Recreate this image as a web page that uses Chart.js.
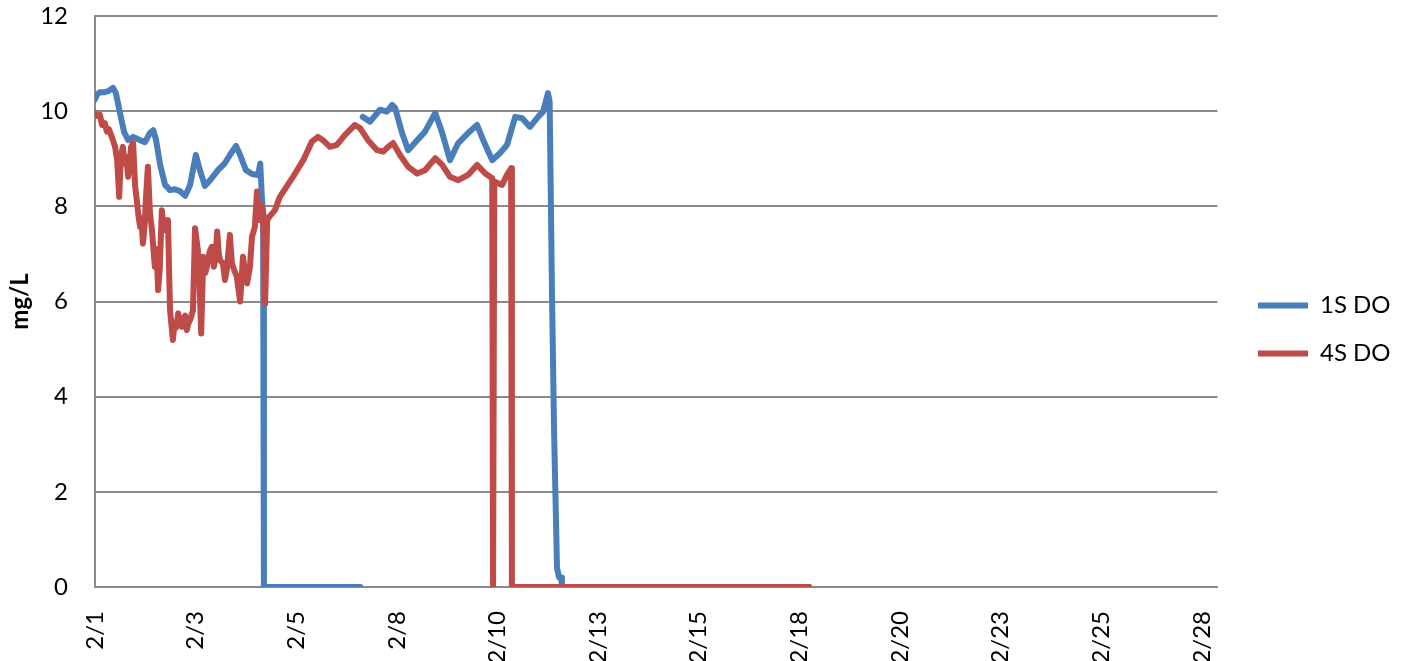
<!DOCTYPE html>
<html>
<head>
<meta charset="utf-8">
<script src="https://cdn.jsdelivr.net/npm/chart.js@4/dist/chart.umd.min.js"></script>
<style>
  html, body { margin: 0; padding: 0; background: #fff; }
</style>
</head>
<body>
<canvas id="myChart" width="1401" height="661"></canvas>
<script>
// x values are days of February (1 = 2/1 00:00)
var tickLabels = ["2/1", "2/3", "2/5", "2/8", "2/10", "2/13", "2/15", "2/18", "2/20", "2/23", "2/25", "2/28"];

var s1Days = [1.00, 1.05, 1.12, 1.24, 1.32, 1.44, 1.51, 1.61, 1.71, 1.81, 1.93, 2.10, 2.22, 2.34, 2.42, 2.49,
  2.59, 2.71, 2.83, 2.95, 3.07, 3.20, 3.32, 3.46, 3.56, 3.68, 3.81, 4.00, 4.17, 4.29, 4.44, 4.54, 4.68,
  4.83, 4.98, 5.03, 5.07, 5.10, 5.12, 7.47, 7.49, 7.53, 7.71, 7.95, 8.12, 8.25, 8.32, 8.49, 8.64, 8.86,
  9.05, 9.30, 9.47, 9.66, 9.86, 10.10, 10.32, 10.47, 10.69, 10.88, 11.05, 11.25, 11.42, 11.61, 11.81,
  11.93, 12.05, 12.09, 12.15, 12.20, 12.27, 12.32, 12.37, 12.39, 18.42];
var s1DO = [10.25, 10.35, 10.40, 10.40, 10.42, 10.49, 10.38, 9.96, 9.56, 9.39, 9.46, 9.39, 9.35, 9.54, 9.60, 9.39,
  8.87, 8.45, 8.34, 8.36, 8.32, 8.22, 8.45, 9.08, 8.76, 8.43, 8.55, 8.76, 8.91, 9.08, 9.27, 9.08, 8.76,
  8.68, 8.66, 8.90, 8.20, 7.80, 0, 0, null, 9.88, 9.78, 10.03, 9.99, 10.13, 10.07, 9.54, 9.18, 9.39,
  9.57, 9.96, 9.54, 8.97, 9.33, 9.54, 9.71, 9.39, 8.97, 9.12, 9.29, 9.88, 9.85, 9.67, 9.88,
  9.99, 10.38, 10.20, 6.00, 3.20, 0.40, 0.20, 0.20, 0, 0];

var s4Days = [1.00, 1.06, 1.12, 1.17, 1.24, 1.29, 1.34, 1.41, 1.49, 1.54, 1.59, 1.63, 1.68, 1.72, 1.76, 1.81,
  1.88, 1.93, 1.98, 2.02, 2.06, 2.10, 2.13, 2.17, 2.21, 2.24, 2.29, 2.34, 2.39, 2.43, 2.46, 2.50, 2.54,
  2.58, 2.63, 2.67, 2.71, 2.78, 2.83, 2.90, 2.94, 2.98, 3.03, 3.07, 3.12, 3.16, 3.20, 3.24, 3.28, 3.32,
  3.39, 3.44, 3.51, 3.55, 3.59, 3.64, 3.69, 3.73, 3.77, 3.81, 3.85, 3.90, 3.94, 3.98, 4.02, 4.05, 4.12,
  4.17, 4.22, 4.29, 4.34, 4.40, 4.46, 4.54, 4.61, 4.66, 4.71, 4.78, 4.83, 4.90, 4.95, 5.00, 5.03, 5.07,
  5.10, 5.15, 5.20, 5.27, 5.39, 5.51, 5.83, 6.08, 6.29, 6.44, 6.56, 6.73, 6.90, 7.10, 7.34, 7.47, 7.66,
  7.88, 8.03, 8.15, 8.27, 8.44, 8.64, 8.86, 9.05, 9.30, 9.47, 9.66, 9.86, 10.10, 10.32, 10.52, 10.69,
  10.71, 10.74, 10.93, 11.05, 11.15, 11.17, 18.42];
var s4DO = [9.96, 9.90, 9.92, 9.71, 9.75, 9.57, 9.62, 9.46, 9.25, 8.97, 8.20, 9.04, 9.25, 8.90, 9.04, 8.62,
  9.25, 9.33, 8.41, 8.13, 7.80, 7.57, 7.75, 7.22, 7.60, 8.13, 8.83, 7.85, 7.50, 7.05, 6.73, 7.10, 6.24,
  6.70, 7.92, 7.60, 7.50, 7.71, 5.82, 5.19, 5.55, 5.45, 5.75, 5.50, 5.47, 5.65, 5.70, 5.40, 5.55, 5.61,
  5.82, 7.54, 7.08, 6.40, 5.33, 6.94, 6.60, 6.73, 6.95, 7.08, 7.15, 6.73, 6.90, 7.47, 7.00, 6.87, 6.80,
  6.45, 6.70, 7.40, 6.80, 6.65, 6.52, 6.00, 6.94, 6.60, 6.38, 6.73, 7.36, 7.57, 8.31, 7.80, 7.71, 8.00,
  7.90, 5.96, 7.71, 7.80, 7.92, 8.20, 8.62, 8.97, 9.36, 9.46, 9.39, 9.25, 9.29, 9.50, 9.71, 9.64, 9.39,
  9.18, 9.15, 9.25, 9.33, 9.08, 8.83, 8.69, 8.76, 9.01, 8.87, 8.62, 8.55, 8.66, 8.87, 8.69, 8.59,
  0, 8.52, 8.45, 8.66, 8.80, 0, 0];

var tickStep = 27 / 11;

function toPoints(days, vals) {
  return days.map(function (d, i) { return { x: d, y: vals[i] }; });
}

var ctx = document.getElementById('myChart');
var fontFamily = "Lato, 'Liberation Sans', sans-serif";
var gridGray = "#8a8a8a";

// move the legend to where Excel put it
var legendShift = {
  id: "legendShift",
  afterLayout: function (chart) {
    var lg = chart.legend;
    var dx = 1234 - lg.left, dy = -9;
    lg.left += dx; lg.right += dx;
    lg.top += dy; lg.bottom += dy;
  }
};

var chart = new Chart(ctx, {
  type: "line",
  data: {
    datasets: [
      {
        label: "1S DO",
        data: toPoints(s1Days, s1DO),
        borderColor: "#4a7ebb",
        backgroundColor: "#4a7ebb",
        borderWidth: 6,
        borderCapStyle: "round",
        borderJoinStyle: "round",
        pointRadius: 0,
        tension: 0,
        fill: false,
        order: 1
      },
      {
        label: "4S DO",
        data: toPoints(s4Days, s4DO),
        borderColor: "#be4b48",
        backgroundColor: "#be4b48",
        borderWidth: 6,
        borderCapStyle: "round",
        borderJoinStyle: "round",
        pointRadius: 0,
        tension: 0,
        fill: false,
        order: 0
      }
    ]
  },
  options: {
    responsive: false,
    animation: false,
    layout: { padding: { top: 16, right: 17, bottom: 0, left: 0 } },
    plugins: {
      tooltip: { enabled: false },
      legend: {
        display: true,
        position: "right",
        labels: {
          usePointStyle: true,
          pointStyle: "line",
          pointStyleWidth: 50,
          padding: 24,
          color: "#000",
          font: { family: fontFamily, size: 24 },
          sort: function (a, b) { return a.datasetIndex - b.datasetIndex; }
        }
      }
    },
    scales: {
      x: {
        type: "linear",
        min: 1,
        max: 28.38,
        afterBuildTicks: function (axis) {
          axis.ticks = tickLabels.map(function (t, i) { return { value: 1 + i * tickStep }; });
        },
        afterFit: function (scale) { scale.height = 74; },
        grid: { display: false },
        border: { display: true, color: gridGray, width: 2 },
        ticks: {
          autoSkip: false,
          minRotation: 90,
          maxRotation: 90,
          padding: 16,
          color: "#000",
          font: { family: fontFamily, size: 24 },
          callback: function (value, index) { return tickLabels[index]; }
        }
      },
      y: {
        min: 0,
        max: 12,
        afterFit: function (scale) {
          scale.width = 95;
          scale.paddingTop = 14;
          scale.paddingBottom = 14;
        },
        grid: { color: gridGray, lineWidth: 2, drawTicks: false },
        border: { display: true, color: gridGray, width: 2 },
        ticks: {
          stepSize: 2,
          padding: 27,
          color: "#000",
          font: { family: fontFamily, size: 24 }
        },
        title: {
          display: true,
          text: "mg/L",
          color: "#000",
          padding: { top: 6, bottom: 6 },
          font: { family: fontFamily, size: 24, weight: "bold" }
        }
      }
    }
  },
  plugins: [legendShift]
});
</script>
</body>
</html>
